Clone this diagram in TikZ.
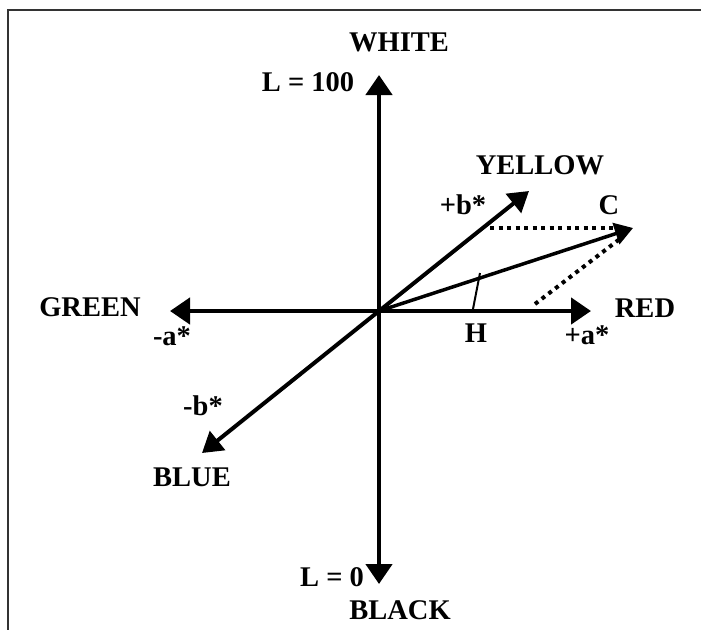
\documentclass[tikz,border=0pt]{standalone}
\usepackage{fontspec}
\setmainfont{Liberation Serif}
\usetikzlibrary{arrows.meta}
\begin{document}
\begin{tikzpicture}[x=1pt,y=-1pt,
  lbl/.style={font=\fontsize{28.5}{28.5}\selectfont\bfseries, inner sep=0pt, anchor=center},
  axis/.style={line width=4.5pt, -{Triangle[length=20pt,width=26pt]}},
  vec/.style={line width=4pt, -{Triangle[length=20pt,width=24pt]}},
  chroma/.style={line width=3.5pt, -{Triangle[length=18pt,width=22pt]}},
  dots/.style={line width=4pt, dash pattern=on 4pt off 4.5pt},
  frame/.style={line width=2pt, black!80}]
\useasboundingbox (0,0) rectangle (701,630);
\draw[frame] (701,10) -- (8,10) -- (8,630);

\coordinate (O) at (379,311);
\coordinate (top) at (379,75);
\coordinate (bot) at (379,584);
\coordinate (left) at (170,311);
\coordinate (right) at (591,311);
\coordinate (ytip) at (529,191);
\coordinate (btip) at (202,453);
\coordinate (ctip) at (633,228);
\coordinate (d1) at (490,228);
\coordinate (d1e) at (618,228);
\coordinate (d2) at (535,304);
\coordinate (d2e) at (621,238);
\coordinate (h1) at (473,309);
\coordinate (h2) at (480,273);

\draw[axis] (O) -- (top);
\draw[axis] (O) -- (bot);
\draw[axis] (O) -- (left);
\draw[axis] (O) -- (right);
\draw[vec] (O) -- (ytip);
\draw[vec] (O) -- (btip);
\draw[dots] (d1) -- (d1e);
\draw[dots] (d2) -- (d2e);
\draw[chroma] (O) -- (ctip);
\draw[line width=2pt] (h1) -- (h2);

\node[lbl] (white) at (399,42) {WHITE};
\node[lbl] (l100) at (308,82) {L = 100};
\node[lbl] (yellow) at (540,165) {YELLOW};
\node[lbl] (pb) at (463,205) {+b*};
\node[lbl] (c) at (609,205) {C};
\node[lbl] (red) at (645,308) {RED};
\node[lbl] (h) at (476,333) {H};
\node[lbl] (pa) at (587,335) {+a*};
\node[lbl] (green) at (90,307) {GREEN};
\node[lbl] (ma) at (172,336) {-a*};
\node[lbl] (mb) at (203,406) {-b*};
\node[lbl] (blue) at (192,477) {BLUE};
\node[lbl] (l0) at (332,577) {L = 0};
\node[lbl] (black) at (400,610) {BLACK};
\end{tikzpicture}
\end{document}
